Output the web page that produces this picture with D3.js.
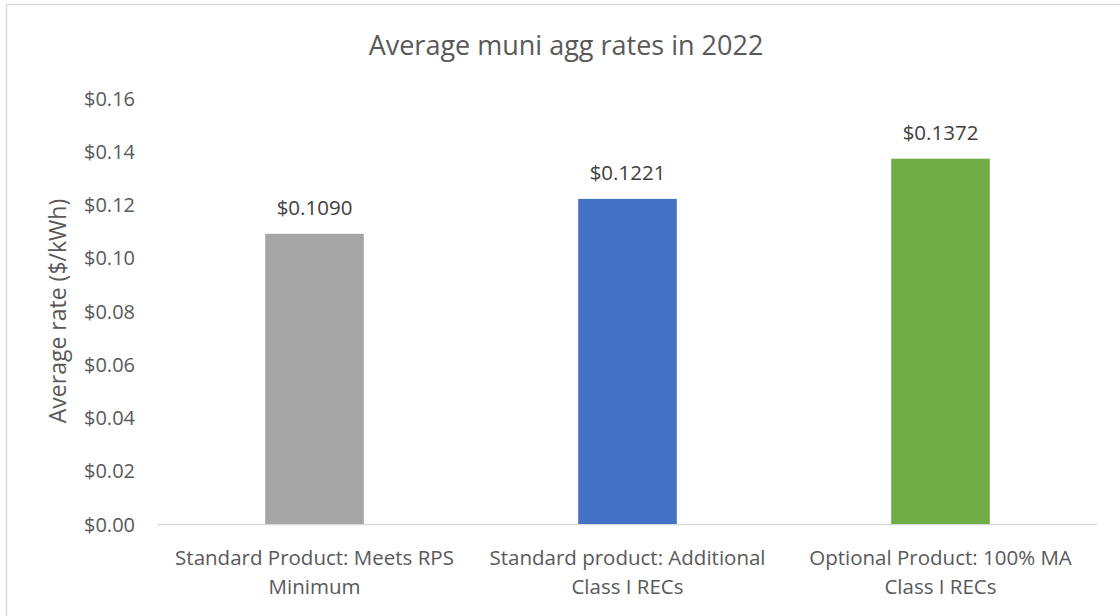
<!DOCTYPE html>
<html>
<head>
<meta charset="utf-8">
<script src="https://cdn.jsdelivr.net/npm/d3@7"></script>
<style>
	body { margin: 0; background: #fff; }
	svg { display: block; }
	svg text { font-family: "Open Sans", "Noto Sans", sans-serif; }
	.axis path { display: none; }
	.axis line { stroke: #d9d9d9; }
	.axis text { fill: #595959; font-size: 20px; }
</style>
</head>
<body>
<div id="chart"></div>
<script>
var categories = [
	['Standard Product: Meets RPS', 'Minimum'],
	['Standard product: Additional', 'Class I RECs'],
	['Optional Product: 100% MA', 'Class I RECs']
];
var rates = [0.1090, 0.1221, 0.1372];
var barColors = ['#a5a5a5', '#4472c4', '#70ad47'];
var yTicks = [0, 0.02, 0.04, 0.06, 0.08, 0.10, 0.12, 0.14, 0.16];

var W = 1120, H = 616;
var margin = { top: 98, right: 23, bottom: 92, left: 158 };
var width = W - margin.left - margin.right;
var height = H - margin.top - margin.bottom;

var svg = d3.select('#chart')
	.append('svg')
	.attr('width', W)
	.attr('height', H);

// outer border
svg.append('rect')
	.attr('x', 6.5)
	.attr('y', 4.5)
	.attr('width', W)
	.attr('height', H)
	.attr('fill', 'none')
	.attr('stroke', '#d9d9d9')
	.attr('stroke-width', 1.5);

var wrapper = svg.append('g')
	.attr('transform', 'translate(' + margin.left + ',' + margin.top + ')');

var xScale = d3.scaleBand()
	.domain(d3.range(categories.length))
	.range([0, width])
	.paddingInner(0.685)
	.paddingOuter(0.3425);

var yScale = d3.scaleLinear()
	.domain([0, 0.16])
	.range([height, 0]);

var yAxis = wrapper.append('g')
	.attr('class', 'axis y-axis')
	.call(d3.axisLeft(yScale).tickValues(yTicks).tickSize(0).tickPadding(23)
		.tickFormat(function(d) { return '$' + d3.format('.2f')(d); }));

yAxis.attr('font-family', null).attr('font-size', null);
yAxis.selectAll('text').attr('dy', '0.36em');

// baseline
wrapper.append('line')
	.attr('x1', 0)
	.attr('x2', width)
	.attr('y1', yScale(0) + 0.5)
	.attr('y2', yScale(0) + 0.5)
	.attr('stroke', '#d9d9d9')
	.attr('stroke-width', 1.5);

wrapper.selectAll('.bar')
	.data(rates)
	.enter()
	.append('rect')
	.attr('class', 'bar')
	.attr('x', function(d, i) { return xScale(i); })
	.attr('y', function(d) { return yScale(d); })
	.attr('width', xScale.bandwidth())
	.attr('height', function(d) { return yScale(0) - yScale(d); })
	.attr('fill', function(d, i) { return barColors[i]; });

wrapper.selectAll('.value')
	.data(rates)
	.enter()
	.append('text')
	.attr('class', 'value')
	.attr('x', function(d, i) { return xScale(i) + xScale.bandwidth() / 2; })
	.attr('y', function(d) { return yScale(d) - 19; })
	.attr('text-anchor', 'middle')
	.attr('fill', '#404040')
	.style('font-size', '20.5px')
	.text(function(d) { return '$' + d3.format('.4f')(d); });

var catLabel = wrapper.selectAll('.cat')
	.data(categories)
	.enter()
	.append('text')
	.attr('class', 'cat')
	.attr('text-anchor', 'middle')
	.attr('fill', '#595959')
	.style('font-size', '20.5px')
	.attr('transform', function(d, i) {
		return 'translate(' + (xScale(i) + xScale.bandwidth() / 2) + ',' + (height + 41) + ')';
	});

catLabel.selectAll('tspan')
	.data(function(d) { return d; })
	.enter()
	.append('tspan')
	.attr('x', 0)
	.attr('y', function(d, i) { return i * 29; })
	.text(function(d) { return d; });

svg.append('text')
	.attr('x', 566)
	.attr('y', 55)
	.attr('text-anchor', 'middle')
	.attr('fill', '#595959')
	.style('font-size', '27px')
	.text('Average muni agg rates in 2022');

svg.append('text')
	.attr('transform', 'translate(66,' + (margin.top + height / 2) + ') rotate(-90)')
	.attr('text-anchor', 'middle')
	.attr('fill', '#595959')
	.style('font-size', '23px')
	.text('Average rate ($/kWh)');
</script>
</body>
</html>
